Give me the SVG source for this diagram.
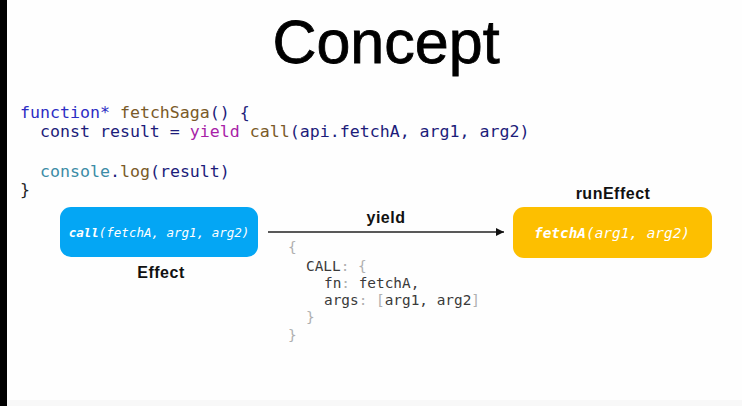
<svg xmlns="http://www.w3.org/2000/svg" width="742" height="406" viewBox="0 0 742 406">
<defs>
<style>
.code{font-family:"DejaVu Sans Mono","Liberation Mono",monospace;font-size:16.6px;}
.obj{font-family:"DejaVu Sans Mono","Liberation Mono",monospace;font-size:14.4px;fill:#3a3a3a;}
.p{fill:#b0b0b0;}
.lbl{font-family:"Liberation Sans",Arial,sans-serif;font-size:16px;letter-spacing:0.5px;font-weight:bold;fill:#111;text-anchor:middle;}
.btxt{font-family:"DejaVu Sans Mono","Liberation Mono",monospace;font-style:italic;fill:#fff;text-anchor:middle;}
.kw{fill:#2d2dc4;}
.fn{fill:#7a5a28;}
.nv{fill:#1c1c7a;}
.yl{fill:#a81fa8;}
.cs{fill:#3c8ca6;}
</style>
<marker id="ah" viewBox="0 0 10 10" refX="10" refY="5" markerWidth="8" markerHeight="8" markerUnits="userSpaceOnUse" orient="auto">
<path d="M0,0 L10,5 L0,10 z" fill="#111"/>
</marker>
</defs>
<rect x="0" y="0" width="742" height="406" fill="#fefefe"/>
<rect x="0" y="400" width="742" height="6" fill="#f8f8f8"/>
<rect x="0" y="0" width="7" height="406" fill="#000"/>
<text x="386" y="63" font-family="'Liberation Sans',Arial,sans-serif" font-size="61" fill="#000" stroke="#000" stroke-width="0.8" text-anchor="middle">Concept</text>
<g id="code">
<text class="code" x="20" y="118" xml:space="preserve"><tspan class="kw">function*</tspan><tspan class="fn"> fetchSaga</tspan><tspan class="nv">() {</tspan></text>
<text class="code" x="20" y="137" xml:space="preserve"><tspan class="nv">  const result = </tspan><tspan class="yl">yield</tspan><tspan class="fn"> call</tspan><tspan class="nv">(api.fetchA, arg1, arg2)</tspan></text>
<text class="code" x="20" y="177" xml:space="preserve"><tspan class="cs">  console</tspan><tspan class="nv">.</tspan><tspan class="fn">log</tspan><tspan class="nv">(result)</tspan></text>
<text class="code" x="20" y="195" fill="#222">}</text>
</g>
<g id="effect">
<rect x="60" y="207" width="198" height="50" rx="11" fill="#04a6f4"/>
<text class="btxt" x="159" y="237" font-size="12.5"><tspan font-weight="bold">call</tspan>(fetchA, arg1, arg2)</text>
<text class="lbl" x="161" y="278">Effect</text>
</g>
<g id="runEffect">
<rect x="513" y="207" width="199" height="51" rx="11" fill="#fdbf00"/>
<text class="btxt" x="612" y="238" font-size="14.4"><tspan font-weight="bold">fetchA</tspan>(arg1, arg2)</text>
<text class="lbl" x="613" y="199">runEffect</text>
</g>
<g id="connectors">
<line x1="268" y1="232" x2="504" y2="232" stroke="#222" stroke-width="1.3" marker-end="url(#ah)"/>
<text class="lbl" x="386" y="223">yield</text>
</g>
<g id="object">
<text class="obj" x="288" y="252"><tspan class="p">{</tspan></text>
<text class="obj" x="306" y="271" xml:space="preserve">CALL<tspan class="p">: {</tspan></text>
<text class="obj" x="324" y="288" xml:space="preserve">fn<tspan class="p">:</tspan> fetchA,</text>
<text class="obj" x="324" y="305" xml:space="preserve">args<tspan class="p">: [</tspan>arg1, arg2<tspan class="p">]</tspan></text>
<text class="obj" x="306" y="322"><tspan class="p">}</tspan></text>
<text class="obj" x="288" y="340"><tspan class="p">}</tspan></text>
</g>
</svg>
